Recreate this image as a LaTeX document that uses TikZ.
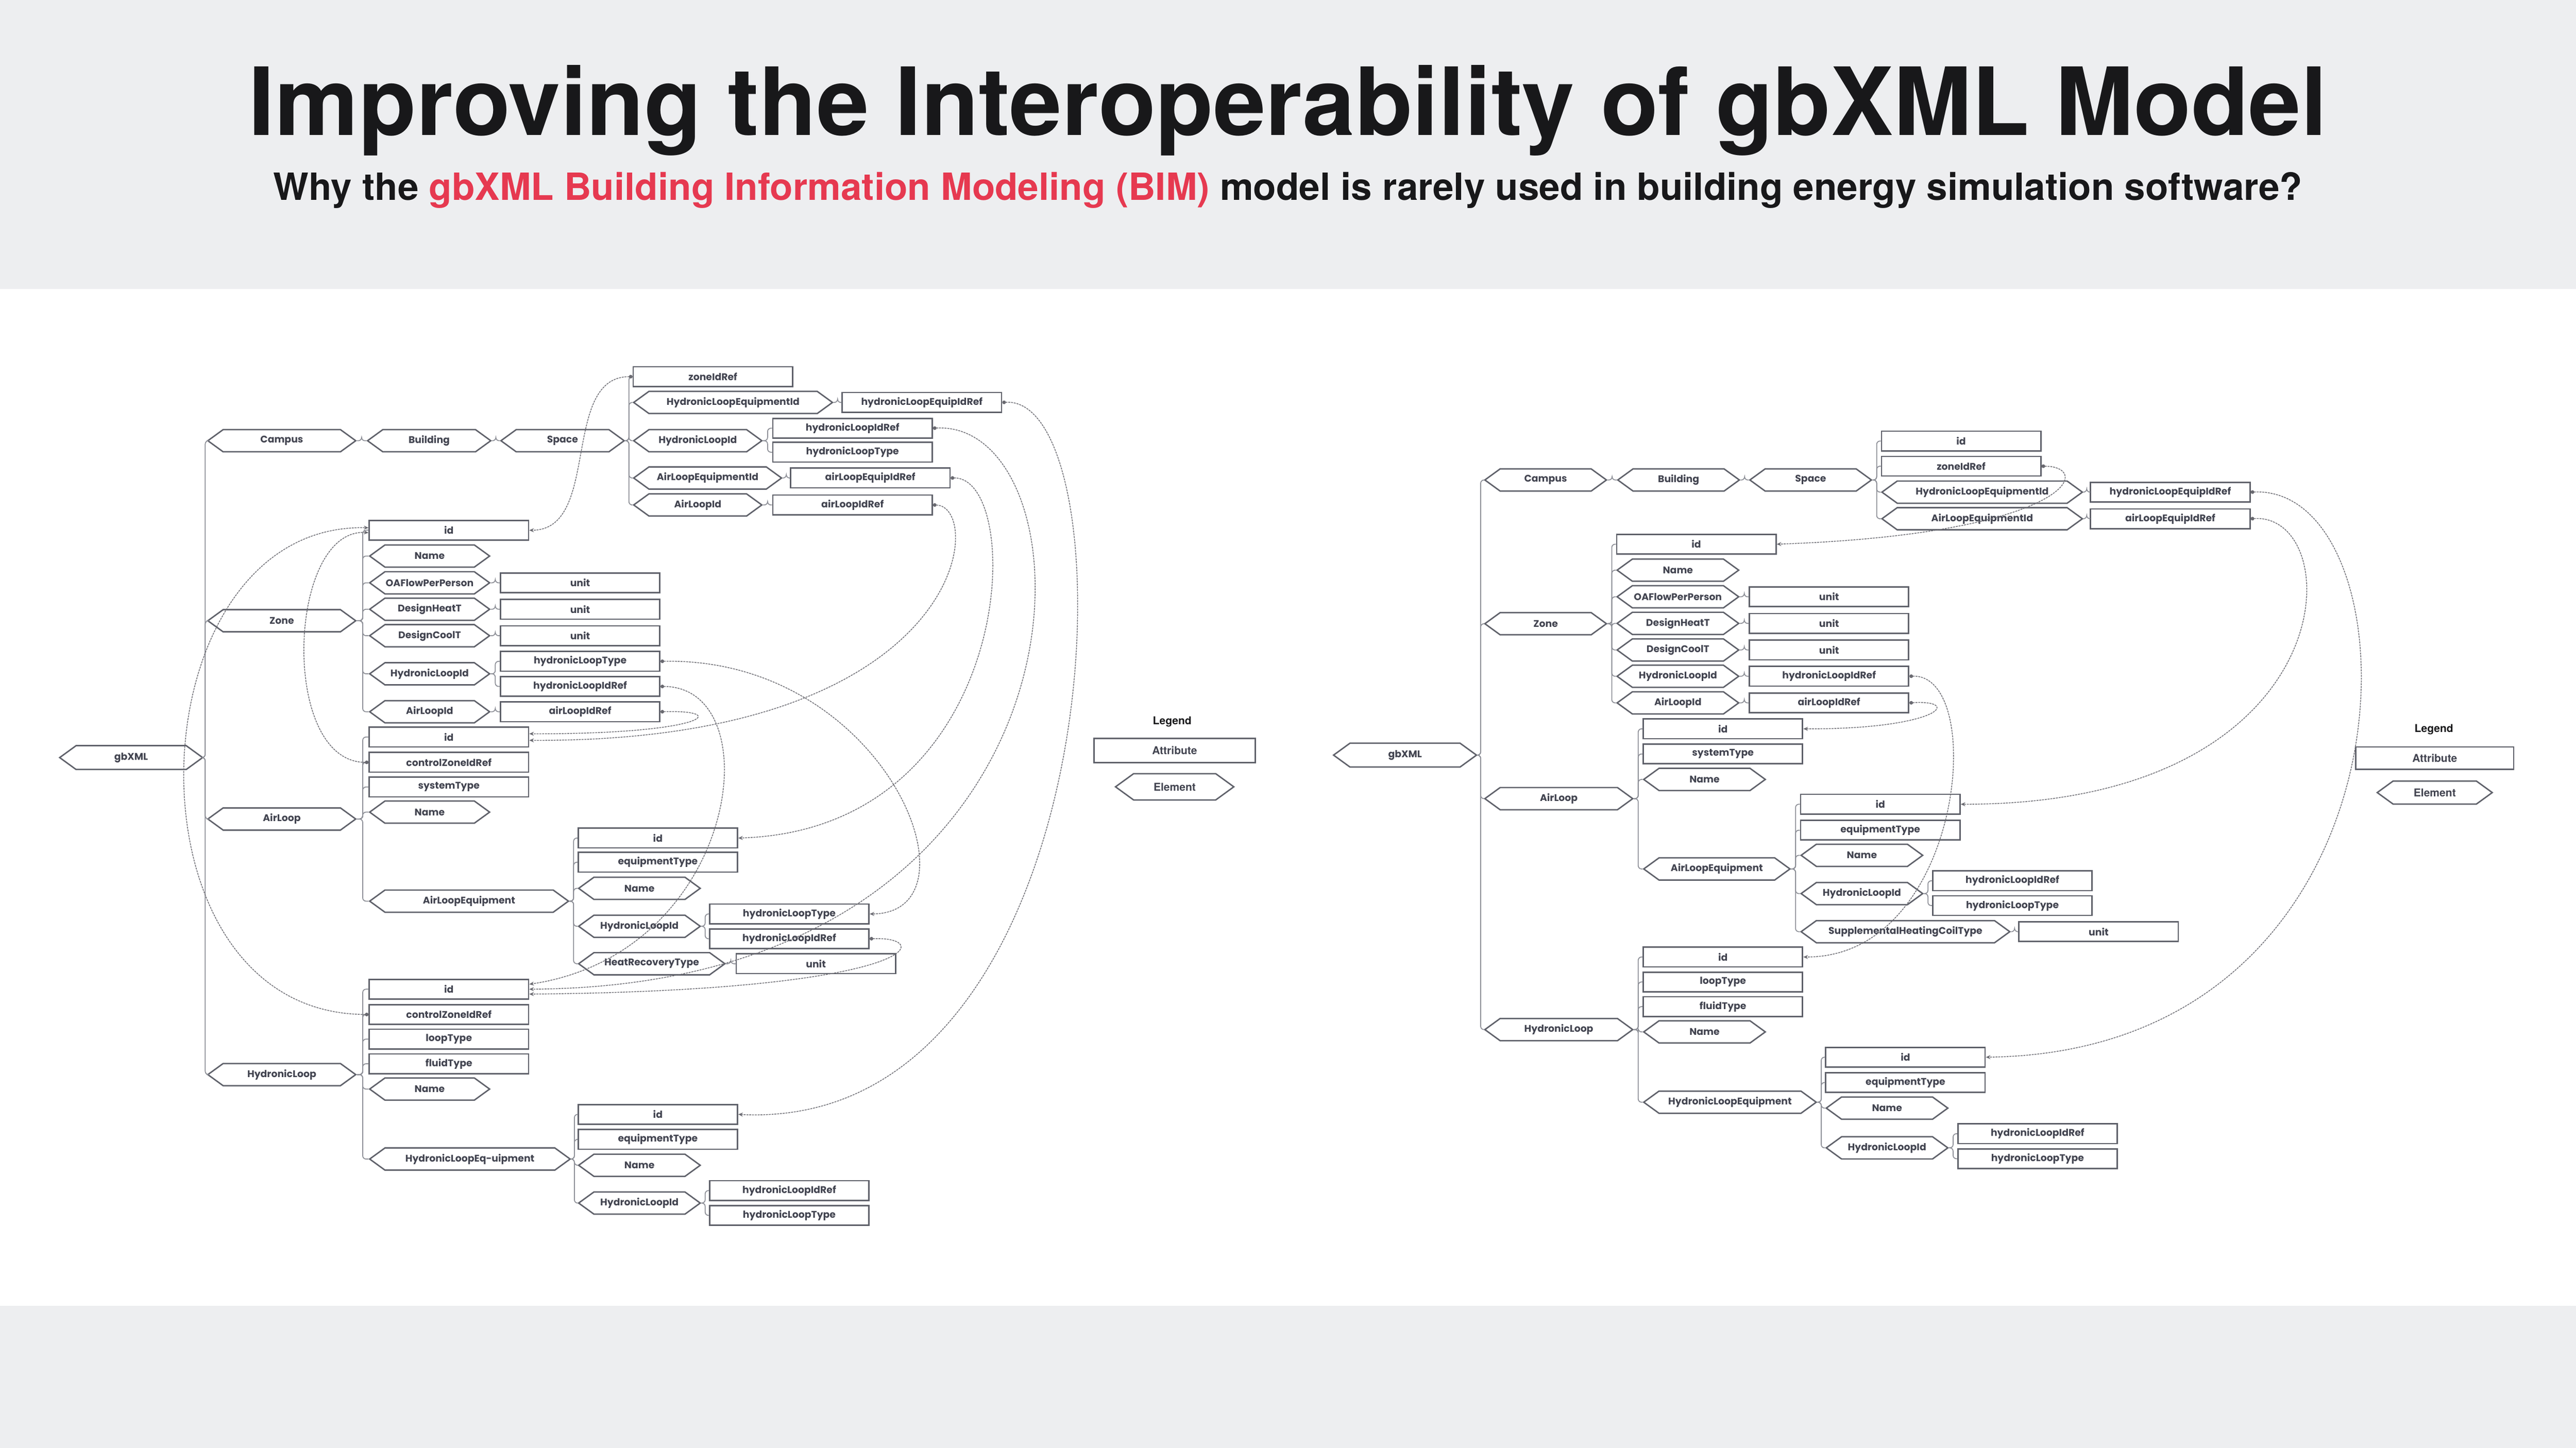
\documentclass[tikz,border=0pt]{standalone}
\usepackage{fontspec}
\usepackage{graphicx}
\usetikzlibrary{shapes.symbols,arrows.meta,calc}
\newfontfamily\popp{Poppins}
\newfontfamily\heros{TeX Gyre Heros}
\definecolor{nodeln}{RGB}{95,97,106}
\definecolor{nodetext}{RGB}{66,68,80}
\definecolor{treegray}{RGB}{140,142,150}
\definecolor{refgray}{RGB}{105,105,112}
\definecolor{bggray}{RGB}{237,238,240}
\definecolor{subred}{RGB}{230,57,80}
\definecolor{titleblack}{RGB}{24,24,26}
\newcommand\nodefnt{\popp\bfseries\fontsize{5.9}{7}\selectfont}
\newcommand\legfnt{\heros\bfseries\fontsize{6.6}{8}\selectfont}
\newcommand\kids[2]{\foreach \kid in {#2}{\draw[treeln] let \p1=(#1.east), \p2=(\kid.west) in (\p1) -- ({0.5*(\x1+\x2)},\y1) |- (\p2);}}
\tikzset{
  attr/.style={rectangle, draw=nodeln, fill=white, line width=0.85pt, minimum width=97pt, minimum height=12pt, inner sep=0pt, anchor=west, font=\nodefnt, text=nodetext},
  elem/.style={signal, signal to=east and west, signal pointer angle=72, draw=nodeln, fill=white, line width=0.85pt, minimum width=#1, minimum height=13.5pt, inner sep=0pt, anchor=west, font=\nodefnt, text=nodetext},
  elem/.default=74pt,
  treeln/.style={draw=treegray, line width=0.55pt, rounded corners=2pt},
  refln/.style={draw=refgray, line width=0.45pt, dash pattern=on 1.2pt off 0.5pt, {Circle[length=2.2pt]}-{Stealth[length=2.8pt,width=2.4pt]}},
}
\begin{document}
\begin{tikzpicture}[x=1pt,y=-1pt]
\useasboundingbox (0,0) rectangle (1568,881.5);
\fill[bggray] (0,0) rectangle (1568,176);
\fill[white] (0,176) rectangle (1568,795);
\fill[bggray] (0,795) rectangle (1568,881.5);
% title
\node[anchor=base, text=titleblack, inner sep=0pt] (title) at (784,82.2) {\resizebox{1265pt}{!}{\heros\bfseries\fontsize{57}{60}\selectfont Improving the Interoperability of gbXML Model}};
\node[anchor=base, text=titleblack, inner sep=0pt] (subtitle) at (784,121.8) {\resizebox{1235pt}{!}{\heros\bfseries\fontsize{23}{26}\selectfont Why the \textcolor{subred}{gbXML Building Information Modeling (BIM)} model is rarely used in building energy simulation software?}};

% ================= LEFT =================
\node[elem=87pt, minimum height=14.5pt] (Lgb) at (35.6,461.2) {gbXML};
\node[elem=90pt] (LCampus) at (125.8,268.3) {Campus};
\node[elem=75pt] (LBuilding) at (223,268.3) {Building};
\node[elem=75pt] (LSpace) at (304.2,268.3) {Space};
\node[elem=90pt] (LZone) at (125.8,377.9) {Zone};
\node[elem=90pt] (LAirLoop) at (125.8,498.6) {AirLoop};
\node[elem=90pt] (LHL) at (125.8,654.2) {HydronicLoop};
% space kids
\node[attr] (LSzref) at (385,229.3) {zoneIdRef};
\node[elem=121pt] (LShleid) at (385,245) {HydronicLoopEquipmentId};
\node[attr] (LShleidref) at (512.2,245) {hydronicLoopEquipIdRef};
\node[elem=78pt] (LShlid) at (385,268.3) {HydronicLoopId};
\node[attr] (LShlidref) at (470,260.7) {hydronicLoopIdRef};
\node[attr] (LShltype) at (470,275.3) {hydronicLoopType};
\node[elem=90pt] (LSaleid) at (385,291) {AirLoopEquipmentId};
\node[attr] (LSaleidref) at (480.8,291) {airLoopEquipIdRef};
\node[elem=78pt] (LSalid) at (385,307.4) {AirLoopId};
\node[attr] (LSalidref) at (470,307.4) {airLoopIdRef};
% zone kids
\node[attr] (LZid) at (224.3,322.8) {id};
\node[elem=73pt] (LZname) at (224.3,338.5) {Name};
\node[elem=73pt] (LZoa) at (224.3,354.8) {OAFlowPerPerson};
\node[attr] (LZoau) at (304.2,354.8) {unit};
\node[elem=73pt] (LZdh) at (224.3,370.9) {DesignHeatT};
\node[attr] (LZdhu) at (304.2,370.9) {unit};
\node[elem=73pt] (LZdc) at (224.3,387) {DesignCoolT};
\node[attr] (LZdcu) at (304.2,387) {unit};
\node[elem=73pt] (LZhlid) at (224.3,410.2) {HydronicLoopId};
\node[attr] (LZhltype) at (304.2,402.6) {hydronicLoopType};
\node[attr] (LZhlidref) at (304.2,417.9) {hydronicLoopIdRef};
\node[elem=73pt] (LZalid) at (224.3,433.3) {AirLoopId};
\node[attr] (LZalidref) at (304.2,433.3) {airLoopIdRef};
% airloop kids
\node[attr] (LAid) at (224.3,448.7) {id};
\node[attr] (LActrl) at (224.3,464.1) {controlZoneIdRef};
\node[attr] (LAsys) at (224.3,479.1) {systemType};
\node[elem=73pt] (LAname) at (224.3,494.4) {Name};
\node[elem=121pt] (LAeq) at (224.3,548.6) {AirLoopEquipment};
\node[attr] (LEid) at (351.5,510.2) {id};
\node[attr] (LEtype) at (351.5,524.9) {equipmentType};
\node[elem=74pt] (LEname) at (351.5,540.8) {Name};
\node[elem=74pt] (LEhlid) at (351.5,563.9) {HydronicLoopId};
\node[attr] (LEhltype) at (431.5,556.4) {hydronicLoopType};
\node[attr] (LEhlidref) at (431.5,571.5) {hydronicLoopIdRef};
\node[elem=89pt] (LEhr) at (351.5,586.7) {HeatRecoveryType};
\node[attr] (LEhru) at (447.7,586.7) {unit};
% hydronic loop kids
\node[attr] (LHid) at (224.3,602.2) {id};
\node[attr] (LHctrl) at (224.3,617.6) {controlZoneIdRef};
\node[attr] (LHloop) at (224.3,632.6) {loopType};
\node[attr] (LHfluid) at (224.3,647.6) {fluidType};
\node[elem=73pt] (LHname) at (224.3,663) {Name};
\node[elem=122pt] (LHeq) at (224.3,705.6) {HydronicLoopEq-uipment};
\node[attr] (LQid) at (351.5,678.4) {id};
\node[attr] (LQtype) at (351.5,693.6) {equipmentType};
\node[elem=74pt] (LQname) at (351.5,709.4) {Name};
\node[elem=74pt] (LQhlid) at (351.5,732.4) {HydronicLoopId};
\node[attr] (LQhlidref) at (431.5,724.8) {hydronicLoopIdRef};
\node[attr] (LQhltype) at (431.5,739.9) {hydronicLoopType};
% legend left
\node[font=\legfnt, text=titleblack] (LLeg) at (713.5,439.3) {Legend};
\node[attr, anchor=center, minimum width=98pt, minimum height=14.6pt, font=\legfnt] (LLatt) at (715,456.9) {Attribute};
\node[elem=72pt, anchor=center, minimum height=16pt, font=\legfnt] (LLel) at (715,479) {Element};

% ================= RIGHT =================
\node[elem=87pt, minimum height=14.5pt] (Rgb) at (811,459.7) {gbXML};
\node[elem=74pt] (RCampus) at (903.1,292.2) {Campus};
\node[elem=74pt] (RBuilding) at (984,292.2) {Building};
\node[elem=74pt] (RSpace) at (1064.4,292.2) {Space};
\node[attr] (RSid) at (1144.8,268.5) {id};
\node[attr] (RSzref) at (1144.8,283.8) {zoneIdRef};
\node[elem=122pt] (RShleid) at (1144.8,299.6) {HydronicLoopEquipmentId};
\node[attr] (RShleidref) at (1272.1,299.6) {hydronicLoopEquipIdRef};
\node[elem=122pt] (RSaleid) at (1144.8,315.8) {AirLoopEquipmentId};
\node[attr] (RSaleidref) at (1272.1,315.8) {airLoopEquipIdRef};
\node[elem=74pt] (RZone) at (903.1,379.7) {Zone};
\node[attr] (RZid) at (983.6,331.3) {id};
\node[elem=74pt] (RZname) at (983.6,347.1) {Name};
\node[elem=74pt] (RZoa) at (983.6,363.3) {OAFlowPerPerson};
\node[attr] (RZoau) at (1064.4,363.3) {unit};
\node[elem=74pt] (RZdh) at (983.6,379.5) {DesignHeatT};
\node[attr] (RZdhu) at (1064.4,379.5) {unit};
\node[elem=74pt] (RZdc) at (983.6,395.7) {DesignCoolT};
\node[attr] (RZdcu) at (1064.4,395.7) {unit};
\node[elem=74pt] (RZhlid) at (983.6,411.7) {HydronicLoopId};
\node[attr] (RZhlidref) at (1064.4,411.7) {hydronicLoopIdRef};
\node[elem=74pt] (RZalid) at (983.6,427.9) {AirLoopId};
\node[attr] (RZalidref) at (1064.4,427.9) {airLoopIdRef};
\node[elem=90pt] (RAirLoop) at (903.1,486.2) {AirLoop};
\node[attr] (RAid) at (999.8,443.7) {id};
\node[attr] (RAsys) at (999.8,459) {systemType};
\node[elem=74pt] (RAname) at (999.8,474.5) {Name};
\node[elem=89pt] (RAeq) at (999.8,529) {AirLoopEquipment};
\node[attr] (REid) at (1095.6,489.6) {id};
\node[attr] (REtype) at (1095.6,505.4) {equipmentType};
\node[elem=74pt] (REname) at (1095.6,520.7) {Name};
\node[elem=74pt] (REhlid) at (1095.6,544) {HydronicLoopId};
\node[attr] (REhlidref) at (1176,536.2) {hydronicLoopIdRef};
\node[attr] (REhltype) at (1176,551.3) {hydronicLoopType};
\node[elem=127pt] (REsup) at (1095.6,567.2) {SupplementalHeatingCoilType};
\node[attr] (REsupu) at (1228.5,567.2) {unit};
\node[elem=90pt] (RHL) at (903.1,626.8) {HydronicLoop};
\node[attr] (RHid) at (999.8,582.6) {id};
\node[attr] (RHloop) at (999.8,597.8) {loopType};
\node[attr] (RHfluid) at (999.8,612.8) {fluidType};
\node[elem=74pt] (RHname) at (999.8,628.2) {Name};
\node[elem=105pt] (RHeq) at (999.8,671) {HydronicLoopEquipment};
\node[attr] (RQid) at (1110.9,643.6) {id};
\node[attr] (RQtype) at (1110.9,659) {equipmentType};
\node[elem=74pt] (RQname) at (1110.9,674.6) {Name};
\node[elem=74pt] (RQhlid) at (1110.9,698.8) {HydronicLoopId};
\node[attr] (RQhlidref) at (1191.3,690.2) {hydronicLoopIdRef};
\node[attr] (RQhltype) at (1191.3,705.4) {hydronicLoopType};
% legend right
\node[font=\legfnt, text=titleblack] (RLeg) at (1481.5,444) {Legend};
\node[attr, anchor=center, minimum width=96pt, minimum height=13.5pt, font=\legfnt] (RLatt) at (1482,461.5) {Attribute};
\node[elem=70pt, anchor=center, minimum height=14pt, font=\legfnt] (RLel) at (1482,482.5) {Element};

% ================= TREE LINES =================
\kids{Lgb}{LCampus,LZone,LAirLoop,LHL}
\kids{LCampus}{LBuilding}
\kids{LBuilding}{LSpace}
\kids{LSpace}{LSzref,LShleid,LShlid,LSaleid,LSalid}
\kids{LShleid}{LShleidref}
\kids{LShlid}{LShlidref,LShltype}
\kids{LSaleid}{LSaleidref}
\kids{LSalid}{LSalidref}
\kids{LZone}{LZid,LZname,LZoa,LZdh,LZdc,LZhlid,LZalid}
\kids{LZoa}{LZoau}
\kids{LZdh}{LZdhu}
\kids{LZdc}{LZdcu}
\kids{LZhlid}{LZhltype,LZhlidref}
\kids{LZalid}{LZalidref}
\kids{LAirLoop}{LAid,LActrl,LAsys,LAname,LAeq}
\kids{LAeq}{LEid,LEtype,LEname,LEhlid,LEhr}
\kids{LEhlid}{LEhltype,LEhlidref}
\kids{LEhr}{LEhru}
\kids{LHL}{LHid,LHctrl,LHloop,LHfluid,LHname,LHeq}
\kids{LHeq}{LQid,LQtype,LQname,LQhlid}
\kids{LQhlid}{LQhlidref,LQhltype}

\kids{Rgb}{RCampus,RZone,RAirLoop,RHL}
\kids{RCampus}{RBuilding}
\kids{RBuilding}{RSpace}
\kids{RSpace}{RSid,RSzref,RShleid,RSaleid}
\kids{RShleid}{RShleidref}
\kids{RSaleid}{RSaleidref}
\kids{RZone}{RZid,RZname,RZoa,RZdh,RZdc,RZhlid,RZalid}
\kids{RZoa}{RZoau}
\kids{RZdh}{RZdhu}
\kids{RZdc}{RZdcu}
\kids{RZhlid}{RZhlidref}
\kids{RZalid}{RZalidref}
\kids{RAirLoop}{RAid,RAsys,RAname,RAeq}
\kids{RAeq}{REid,REtype,REname,REhlid,REsup}
\kids{REhlid}{REhlidref,REhltype}
\kids{REsup}{REsupu}
\kids{RHL}{RHid,RHloop,RHfluid,RHname,RHeq}
\kids{RHeq}{RQid,RQtype,RQname,RQhlid}
\kids{RQhlid}{RQhlidref,RQhltype}

% ================= REFERENCES =================
\draw[refln] (LSzref.west) to[out=180,in=0] (LZid.east);
\draw[refln] (LShleidref.east) .. controls (690,240) and (680,690) .. (LQid.east);
\draw[refln] (LShlidref.east) .. controls (670,255) and (680,600) .. (LHid.east);
\draw[refln] (LSaleidref.east) .. controls (625,290) and (620,505) .. (LEid.east);
\draw[refln] (LSalidref.east) .. controls (600,308) and (590,452) .. ([yshift=-2pt]LAid.east);
\draw[refln] (LZhltype.east) .. controls (540,400) and (600,556) .. (LEhltype.east);
\draw[refln] (LZhlidref.east) .. controls (470,418) and (450,580) .. ([yshift=3pt]LHid.east);
\draw[refln] (LZalidref.east) .. controls (445,432) and (430,447) .. ([yshift=2pt]LAid.east);
\draw[refln] (LEhlidref.east) .. controls (570,570) and (560,603) .. ([yshift=-3pt]LHid.east);
\draw[refln] (LActrl.west) .. controls (170,464) and (175,321) .. ([yshift=-1.5pt]LZid.west);
\draw[refln] (LHctrl.west) .. controls (70,617) and (80,318) .. ([yshift=1.5pt]LZid.west);

\draw[refln] (RSzref.east) .. controls (1275,284) and (1260,325) .. (RZid.east);
\draw[refln] (RShleidref.east) .. controls (1475,295) and (1480,640) .. (RQid.east);
\draw[refln] (RSaleidref.east) .. controls (1430,312) and (1430,490) .. (REid.east);
\draw[refln] (RZhlidref.east) .. controls (1210,410) and (1195,583) .. (RHid.east);
\draw[refln] (RZalidref.east) .. controls (1195,426) and (1180,444) .. (RAid.east);
\end{tikzpicture}
\end{document}
